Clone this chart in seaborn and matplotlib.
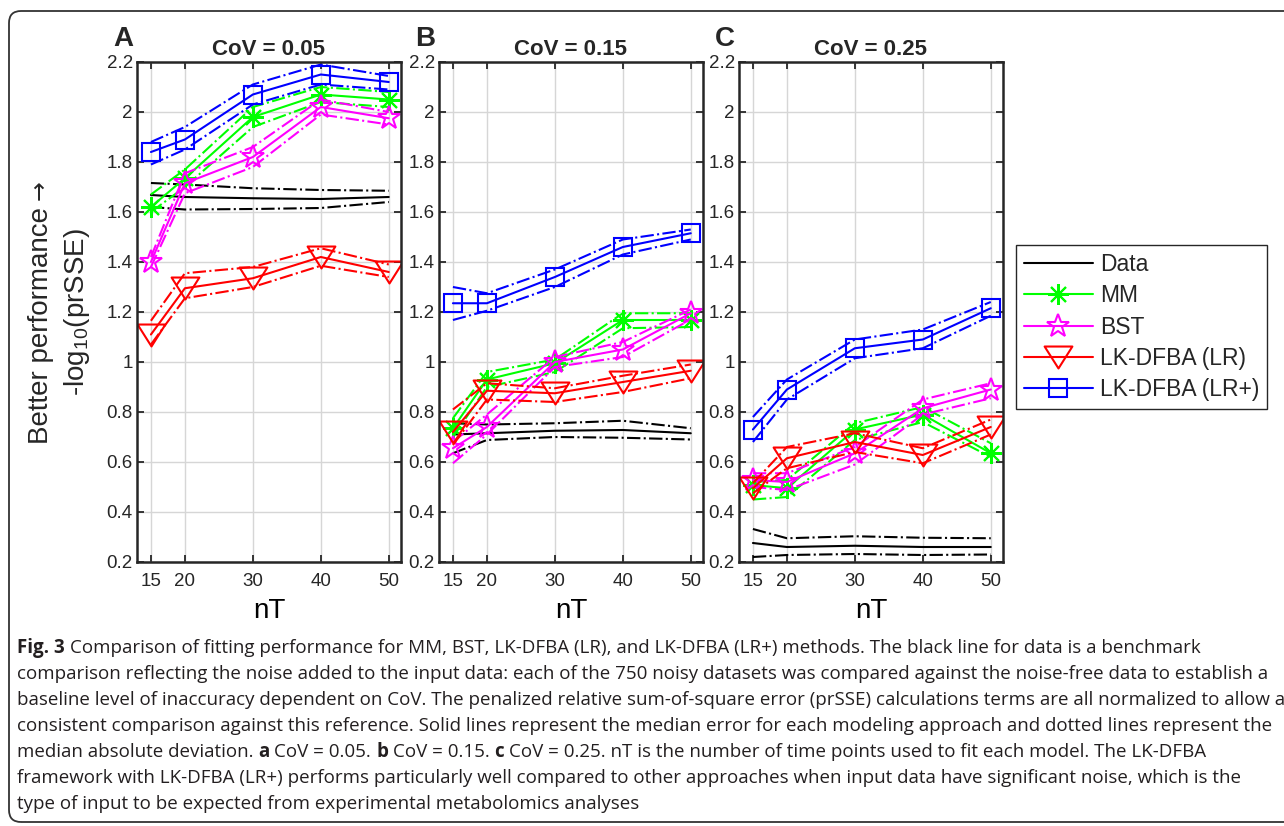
import matplotlib
matplotlib.use('Agg')
import matplotlib.pyplot as plt
import seaborn as sns
import numpy as np
from matplotlib.lines import Line2D
from matplotlib.patches import FancyBboxPatch
from matplotlib.transforms import IdentityTransform
from matplotlib.path import Path
from matplotlib.ticker import FuncFormatter

sns.set_style('white')
plt.rcParams['font.family'] = ['Liberation Sans', 'DejaVu Sans']
plt.rcParams['mathtext.fontset'] = 'custom'
plt.rcParams['mathtext.rm'] = 'Liberation Sans'

# ---------------- data ----------------
nT = [15, 20, 30, 40, 50]

# A: CoV = 0.05
a_data = [1.668, 1.660, 1.655, 1.652, 1.660]
a_data_hi = [1.716, 1.710, 1.695, 1.688, 1.685]
a_data_lo = [1.620, 1.610, 1.612, 1.616, 1.640]
a_mm = [1.62, 1.735, 1.98, 2.07, 2.05]
a_mm_hi = [1.67, 1.77, 2.02, 2.10, 2.08]
a_mm_lo = [1.60, 1.70, 1.94, 2.04, 2.02]
a_bst = [1.40, 1.715, 1.82, 2.02, 1.975]
a_bst_hi = [1.42, 1.755, 1.86, 2.05, 2.00]
a_bst_lo = [1.38, 1.675, 1.78, 1.99, 1.95]
a_lr = [1.11, 1.295, 1.335, 1.42, 1.36]
a_lr_hi = [1.165, 1.355, 1.38, 1.455, 1.39]
a_lr_lo = [1.07, 1.255, 1.30, 1.385, 1.34]
a_lrp = [1.84, 1.89, 2.07, 2.15, 2.12]
a_lrp_hi = [1.88, 1.94, 2.11, 2.19, 2.144]
a_lrp_lo = [1.79, 1.85, 2.03, 2.11, 2.09]

# B: CoV = 0.15
b_data = [0.71, 0.715, 0.725, 0.728, 0.715]
b_data_hi = [0.755, 0.75, 0.755, 0.765, 0.735]
b_data_lo = [0.635, 0.688, 0.70, 0.697, 0.69]
b_mm = [0.735, 0.93, 0.995, 1.168, 1.168]
b_mm_hi = [0.775, 0.96, 1.01, 1.195, 1.195]
b_mm_lo = [0.70, 0.90, 0.96, 1.135, 1.14]
b_bst = [0.655, 0.74, 1.0, 1.05, 1.195]
b_bst_hi = [0.68, 0.79, 1.02, 1.08, 1.21]
b_bst_lo = [0.595, 0.71, 0.98, 1.02, 1.17]
b_lr = [0.72, 0.885, 0.875, 0.92, 0.965]
b_lr_hi = [0.81, 0.915, 0.895, 0.945, 0.99]
b_lr_lo = [0.668, 0.85, 0.84, 0.88, 0.935]
b_lrp = [1.235, 1.235, 1.34, 1.46, 1.515]
b_lrp_hi = [1.30, 1.275, 1.37, 1.49, 1.53]
b_lrp_lo = [1.168, 1.205, 1.30, 1.43, 1.49]

# C: CoV = 0.25
c_data = [0.276, 0.26, 0.265, 0.26, 0.26]
c_data_hi = [0.332, 0.295, 0.303, 0.297, 0.295]
c_data_lo = [0.22, 0.228, 0.232, 0.228, 0.23]
c_mm = [0.508, 0.495, 0.73, 0.79, 0.635]
c_mm_hi = [0.52, 0.528, 0.755, 0.82, 0.675]
c_mm_lo = [0.45, 0.46, 0.688, 0.76, 0.62]
c_bst = [0.528, 0.52, 0.635, 0.815, 0.89]
c_bst_hi = [0.555, 0.555, 0.66, 0.85, 0.915]
c_bst_lo = [0.50, 0.488, 0.59, 0.79, 0.855]
c_lr = [0.495, 0.615, 0.68, 0.628, 0.74]
c_lr_hi = [0.515, 0.66, 0.715, 0.655, 0.77]
c_lr_lo = [0.475, 0.575, 0.64, 0.595, 0.71]
c_lrp = [0.73, 0.89, 1.055, 1.09, 1.215]
c_lrp_hi = [0.78, 0.93, 1.09, 1.13, 1.24]
c_lrp_lo = [0.68, 0.85, 1.015, 1.055, 1.185]

methods = ['Data', 'MM', 'BST', 'LK-DFBA (LR)', 'LK-DFBA (LR+)']
panel_letters = ['A', 'B', 'C']
panel_titles = ['CoV = 0.05', 'CoV = 0.15', 'CoV = 0.25']
yticks = [0.2, 0.4, 0.6, 0.8, 1.0, 1.2, 1.4, 1.6, 1.8, 2.0, 2.2]

panels = [
    [(a_data, a_data_hi, a_data_lo), (a_mm, a_mm_hi, a_mm_lo), (a_bst, a_bst_hi, a_bst_lo),
     (a_lr, a_lr_hi, a_lr_lo), (a_lrp, a_lrp_hi, a_lrp_lo)],
    [(b_data, b_data_hi, b_data_lo), (b_mm, b_mm_hi, b_mm_lo), (b_bst, b_bst_hi, b_bst_lo),
     (b_lr, b_lr_hi, b_lr_lo), (b_lrp, b_lrp_hi, b_lrp_lo)],
    [(c_data, c_data_hi, c_data_lo), (c_mm, c_mm_hi, c_mm_lo), (c_bst, c_bst_hi, c_bst_lo),
     (c_lr, c_lr_hi, c_lr_lo), (c_lrp, c_lrp_hi, c_lrp_lo)],
]

# ---------------- styles ----------------
tri_path = Path([(-1, 0.79), (1, 0.79), (0, -0.79), (-1, 0.79)],
                [Path.MOVETO, Path.LINETO, Path.LINETO, Path.CLOSEPOLY])
styles = {
    'Data': dict(color='#000000', marker=None, ms=0),
    'MM': dict(color='#00ff00', marker=(8, 2, 0), ms=15),
    'BST': dict(color='#ff00ff', marker='*', ms=17),
    'LK-DFBA (LR)': dict(color='#ff0000', marker=tri_path, ms=20),
    'LK-DFBA (LR+)': dict(color='#0000ff', marker='s', ms=13.5),
}
LW = 1.5
axis_col = '#262626'

W, H = 1284, 826
fig = plt.figure(figsize=(W / 100, H / 100), dpi=100)
renderer = fig.canvas.get_renderer()

ax_left = [137, 439, 739]
for i in range(3):
    ax = fig.add_axes([ax_left[i] / W, 1 - 562 / H, 264 / W, 500 / H])
    for name, (med, hi, lo) in zip(methods, panels[i]):
        st = styles[name]
        for band in (lo, hi):
            sns.lineplot(x=nT, y=band, ax=ax, color=st['color'], linewidth=LW,
                         linestyle='-.', legend=False)
        if st['marker'] is None:
            sns.lineplot(x=nT, y=med, ax=ax, color=st['color'], linewidth=LW, legend=False)
        else:
            sns.lineplot(x=nT, y=med, ax=ax, color=st['color'], linewidth=LW,
                         marker=st['marker'], markersize=st['ms'],
                         markerfacecolor='none', markeredgecolor=st['color'],
                         markeredgewidth=LW, legend=False)
    ax.set_xlim(12.95, 51.8)
    ax.set_ylim(0.2, 2.2)
    ax.set_xticks(nT)
    ax.set_yticks(yticks)
    ax.yaxis.set_major_formatter(FuncFormatter(lambda v, p: f'{v:g}'))
    ax.grid(True, color='#d6d6d6', linewidth=1.0)
    ax.set_axisbelow(True)
    ax.tick_params(axis='both', direction='in', length=5, width=1.3, colors=axis_col,
                   labelsize=13.5, top=True, right=True, bottom=True, left=True)
    ax.tick_params(axis='x', pad=8)
    ax.tick_params(axis='y', pad=3)
    for s in ax.spines.values():
        s.set_linewidth(1.8)
        s.set_color(axis_col)
    ax.set_xlabel('nT', fontsize=20, labelpad=6, color='#000000')
    ax.set_ylabel('')
    ax.set_title(panel_titles[i], fontsize=16, fontweight='bold', pad=5)
    fig.text((ax_left[i] - 14) / W, 1 - 39 / H, panel_letters[i], fontsize=20,
             fontweight='bold', ha='center', va='center')

# y label (two lines); the arrow is drawn in DejaVu Sans for a full-size glyph
t_lab = fig.text(41 / W, 0.5, 'Better performance', rotation=90, fontsize=20,
                 ha='center', va='center', color='#262626')
t_arr = fig.text(40 / W, 0.5, '\u2192', rotation=90, fontsize=17, family='DejaVu Sans',
                 ha='center', va='center', color='#262626')
h_lab = t_lab.get_window_extent(renderer).height
h_arr = t_arr.get_window_extent(renderer).height
gap = 7
L = h_lab + gap + h_arr
t_lab.set_y(1 - (312 + L / 2 - h_lab / 2) / H)
t_arr.set_y(1 - (312 - L / 2 + h_arr / 2) / H)
fig.text(77 / W, 1 - 312 / H, '-log$_{\\mathregular{10}}$(prSSE)', rotation=90, fontsize=20,
         ha='center', va='center', color='#262626')

# legend
handles = []
for name in methods:
    st = styles[name]
    if st['marker'] is None:
        handles.append(Line2D([], [], color=st['color'], lw=LW))
    else:
        handles.append(Line2D([], [], color=st['color'], lw=LW, marker=st['marker'],
                              ms=st['ms'], mfc='none', mec=st['color'], mew=LW))
leg = fig.legend(handles, methods, loc='upper left', bbox_to_anchor=(1016 / W, 1 - 245 / H),
                 bbox_transform=fig.transFigure, fontsize=16.5, frameon=True, fancybox=False,
                 borderaxespad=0, borderpad=0.35, handlelength=3.0, handletextpad=0.3,
                 labelspacing=0.36)
leg.get_frame().set_edgecolor(axis_col)
leg.get_frame().set_linewidth(1.0)
leg.get_frame().set_alpha(1)

# outer rounded border
fig.add_artist(FancyBboxPatch((9, 4), 1300, 811, boxstyle='round,pad=0,rounding_size=12',
                              transform=IdentityTransform(), fill=False,
                              edgecolor='#333333', linewidth=1.3))

# caption
cap_font = ['Open Sans', 'DejaVu Sans']
cap_color = '#231f20'


def text_width(s, fs, weight='normal'):
    t = fig.text(0, 0, s, fontsize=fs, fontweight=weight, family=cap_font)
    w = t.get_window_extent(renderer).width
    t.remove()
    return w


caption = [
    [('Fig. 3', True), ('Comparison of fitting performance for MM, BST, LK-DFBA (LR), and LK-DFBA (LR+) methods. '
                        'The black line for data is a benchmark', False)],
    [('comparison reflecting the noise added to the input data: each of the 750 noisy datasets was compared '
      'against the noise-free data to establish a', False)],
    [('baseline level of inaccuracy dependent on CoV. The penalized relative sum-of-square error (prSSE) '
      'calculations terms are all normalized to allow a', False)],
    [('consistent comparison against this reference. Solid lines represent the median error for each modeling '
      'approach and dotted lines represent the', False)],
    [('median absolute deviation.', False), ('a', True), ('CoV = 0.05.', False), ('b', True),
     ('CoV = 0.15.', False), ('c', True),
     ('CoV = 0.25. nT is the number of time points used to fit each model. The LK-DFBA', False)],
    [('framework with LK-DFBA (LR+) performs particularly well compared to other approaches when input data '
      'have significant noise, which is the', False)],
    [('type of input to be expected from experimental metabolomics analyses', False)],
]

fs0 = 12
cap_fs = fs0 * 1248 / text_width(caption[1][0][0], fs0)
space_w = text_width('a a', cap_fs) - text_width('aa', cap_fs)

for li, segs in enumerate(caption):
    y = 1 - (653 + 26 * li) / H
    x = 17
    for k, (s, bold) in enumerate(segs):
        t = fig.text(x / W, y, s, fontsize=cap_fs, fontweight='bold' if bold else 'normal',
                     family=cap_font, color=cap_color, ha='left', va='baseline')
        x = t.get_window_extent(renderer).x1 + space_w

fig.savefig('out.png', dpi=100)
